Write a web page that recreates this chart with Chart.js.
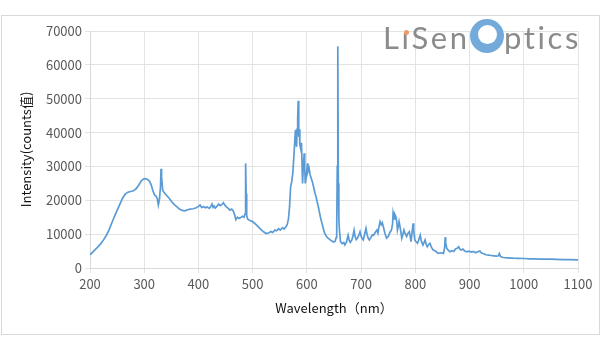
<!DOCTYPE html>
<html>
<head>
<meta charset="utf-8">
<script src="https://cdn.jsdelivr.net/npm/chart.js@4/dist/chart.umd.min.js"></script>
<style>
  html, body { margin: 0; padding: 0; background: #fff; }
  #wrap { position: relative; width: 600px; height: 352px; overflow: hidden; }
  #frame { position: absolute; left: 1px; top: 15px; width: 597px; height: 318px; border: 1px solid #d9d9d9; }
  canvas { position: absolute; left: 0; top: 0; }
  #logo { position: absolute; left: 381px; top: 14px; height: 42px; width: 210px; }
  .lt { position: absolute; font-family: Lato, "Open Sans", sans-serif; font-weight: 400; font-size: 31px; line-height: 31px; color: #8b8b8b; letter-spacing: 2.6px; }
  #dot { position: absolute; width: 5px; height: 5px; border-radius: 50%; background: #f19a6b; }
  #ball { position: absolute; width: 34px; height: 34px; border-radius: 50%; background: #74aad9; }
  #hole { position: absolute; width: 19px; height: 19px; border-radius: 50%; background: #fff; left: 8px; top: 6px; }
</style>
</head>
<body>
<div id="wrap">
  <div id="frame"></div>
  <canvas id="c" width="600" height="352"></canvas>
  <div id="logo">
    <div class="lt" style="left:2px; top:8px;">LıSen</div>
    <div id="dot" style="left:23px; top:16px;"></div>
    <div id="ball" style="left:89px; top:5px;"><div id="hole"></div></div>
    <div class="lt" style="left:123px; top:8px;">ptics</div>
  </div>
</div>
<script>
const wavelengths = [
  200,205,210,215,220,225,230,235,240,245,250,255,260,265,270,275,280,285,290,295,
  300,305,310,313,316,319,322,324,326,328,330,331,332,334,337,341,346,350,355,360,
  365,370,375,380,385,390,395,400,403,406,410,413,416,420,423,425,427,429,431,434,
  437,440,443,446,449,452,455,458,461,464,467,469,472,475,478,481,484,486,487,488,
  489,491,495,500,505,510,515,520,525,530,534,537,541,544,548,551,555,558,562,564,
  566,568,570,572,574,576,578,579,580,581,582,583,584,585,586,587,589,590,592,593,
  595,596,597,599,601,602,604,606,608,610,612,615,617,619,621,623,625,627,629,631,
  633,636,639,643,646,649,652,654,655,656,657,658,659,660,662,665,668,670,673,676,
  678,680,683,685,687,689,691,693,696,698,700,702,704,706,709,711,713,715,718,721,
  723,726,729,731,733,735,737,739,741,744,747,750,753,756,758,759,761,762,764,766,
  767,769,770,772,775,777,779,781,784,786,789,791,792,794,796,797,799,801,804,806,
  809,811,814,816,818,820,822,825,827,830,833,837,842,847,852,854,855,856,858,861,
  864,868,871,874,877,880,882,885,888,891,895,899,903,907,911,915,919,922,926,930,
  935,940,945,950,953,955,957,962,970,980,990,1000,1011,1020,1030,1042,1050,1060,1073,1085,
  1100
];
const intensities = [
  3900,4700,5500,6300,7200,8300,9600,11200,13200,15200,17000,18800,20600,21800,22400,22600,22800,23400,24500,25800,
  26400,26300,25600,24500,22800,21600,21200,20500,18600,20200,24000,29300,27000,23000,22200,21500,20600,19700,18800,18100,
  17400,17000,16900,17200,17400,17500,17700,18200,18600,17900,18100,17800,18000,17600,18200,18900,17900,18300,17700,18200,
  18900,18400,18700,19300,18500,18000,17600,17100,17400,16900,15600,14300,15000,14600,14900,15300,15000,16000,30900,22000,
  15400,14400,14000,13700,13000,12200,11400,10700,10200,10400,10800,10500,11200,11000,11600,11200,11900,11500,12300,13000,
  14500,18000,24000,25500,28000,32900,38500,40800,37000,35800,41000,44000,49400,38800,41000,36500,34900,37000,25000,28500,
  33900,30000,25000,27000,30900,28500,29500,27500,26500,25500,24200,22100,21000,19500,18200,16600,15000,13700,12500,11200,
  10200,9400,8800,8300,8000,7700,7900,9000,11200,30000,65500,25000,14000,11200,7800,7200,7500,6800,7600,9700,
  8200,7600,8300,9500,11200,9200,8400,8800,9800,10700,9400,8700,8300,9600,11700,9900,8800,8300,9000,9800,
  9700,10500,11200,10300,12200,13700,12800,13400,12200,10200,8800,9300,10500,11200,13000,16200,14500,15900,15200,13400,
  11200,12600,13700,12000,8800,9900,11200,10200,9300,10100,10700,9000,7800,10500,13200,11000,8300,7800,7300,8200,
  9700,8000,6800,7500,8300,7000,6300,7000,7300,6000,5300,5000,4300,4500,4300,6000,9100,7500,5800,5200,
  4800,5100,4900,5600,5800,6300,5600,5300,5600,5000,4800,5000,4700,4900,4500,4800,5000,4400,4200,3900,
  3800,3700,3600,3500,3600,4300,3400,3100,3000,2900,2850,2800,2700,2700,2650,2600,2600,2550,2500,2450,
  2400
];
const xTicks = [200,300,400,500,600,700,800,900,1000,1100];
const yTicks = [0,10000,20000,30000,40000,50000,60000,70000];
const xTitle = 'Wavelength（nm）';
const yTitle = 'Intensity(counts值)';

const points = wavelengths.map((w, i) => ({ x: w, y: intensities[i] }));
const font = 'Noto Sans CJK SC, Noto Sans, sans-serif';

new Chart(document.getElementById('c'), {
  type: 'line',
  data: { datasets: [{ data: points, borderColor: '#5b9bd5', borderWidth: 1.7, pointRadius: 0, tension: 0, fill: false }] },
  options: {
    responsive: false,
    animation: false,
    events: [],
    layout: { padding: { left: 14, right: 22, top: 31, bottom: 32 } },
    plugins: { legend: { display: false }, tooltip: { enabled: false } },
    scales: {
      x: {
        type: 'linear', min: xTicks[0], max: xTicks[xTicks.length - 1],
        afterBuildTicks: s => { s.ticks = xTicks.map(v => ({ value: v })); },
        afterFit: s => { s.height = 52; },
        grid: { color: '#e3e3e3', tickLength: 5, lineWidth: 1 },
        border: { color: '#d9d9d9' },
        ticks: { color: '#595959', font: { family: font, size: 13 }, padding: 3, maxRotation: 0, callback: v => String(v) },
        title: { display: true, text: xTitle, color: '#111', font: { family: font, size: 13 }, padding: { top: 4, bottom: 4 } }
      },
      y: {
        min: 0, max: 70000,
        afterBuildTicks: s => { s.ticks = yTicks.map(v => ({ value: v })); },
        afterFit: s => { s.width = 76; },
        grid: { color: '#e3e3e3', tickLength: 5, lineWidth: 1 },
        border: { color: '#d9d9d9' },
        ticks: { color: '#595959', font: { family: font, size: 13 }, padding: 3, callback: v => String(v) },
        title: { display: true, text: yTitle, color: '#111', font: { family: font, size: 13 }, padding: { top: 4, bottom: 4 } }
      }
    }
  }
});
</script>
</body>
</html>
